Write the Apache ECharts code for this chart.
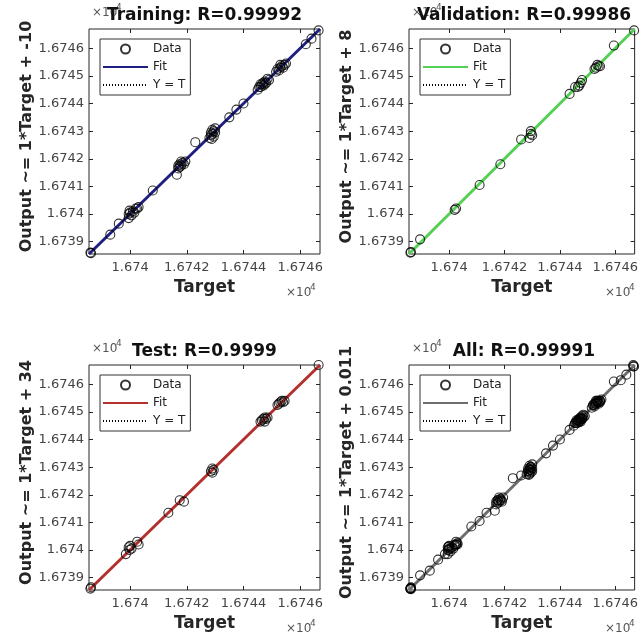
<!DOCTYPE html>
<html>
<head>
<meta charset="utf-8">
<script src="https://cdn.jsdelivr.net/npm/echarts@6/dist/echarts.min.js"></script>
<style>
html,body{margin:0;padding:0;background:#fff;}
#c{width:641px;height:636px;}
</style>
</head>
<body>
<div id="c"></div>
<script>
// ---------- data ----------
const panelTitles = ['Training: R=0.99992', 'Validation: R=0.99986', 'Test: R=0.9999', 'All: R=0.99991'];
const yAxisNames = ['Output ~= 1*Target + -10', 'Output ~= 1*Target + 8', 'Output ~= 1*Target + 34', 'Output ~= 1*Target + 0.011'];
const fitColors = ['#1f1f82', '#55d055', '#b3302e', '#6e6e6e'];
const axisMin = 16738.55;
const axisMax = 16746.7;
const xTicks = [16740, 16742, 16744, 16746];
const yTicks = [16739, 16740, 16741, 16742, 16743, 16744, 16745, 16746];
const legendNames = ['Data', 'Fit', 'Y = T'];

const trainTarget = [16738.6,16738.62,16739.3,16739.6,
  16739.95,16739.95,16740.0,16740.05,16740.1,16740.15,16740.2,16740.25,16740.3,16739.98,
  16740.8,
  16741.65,16741.7,16741.75,16741.8,16741.75,16741.85,16741.9,16741.95,16741.7,16741.8,
  16742.3,
  16742.8,16742.85,16742.9,16742.95,16743.0,16742.9,16742.85,16743.0,16742.95,16742.88,
  16743.5,16743.75,16744.0,
  16744.5,16744.55,16744.6,16744.65,16744.7,16744.75,16744.8,16744.85,16744.7,16744.6,16744.9,16744.75,
  16745.15,16745.2,16745.25,16745.3,16745.35,16745.4,16745.45,16745.3,16745.5,
  16746.2,16746.4,16746.65];
const trainOutput = [16738.6,16738.58,16739.25,16739.65,
  16739.85,16740.0,16740.05,16739.95,16740.1,16740.05,16740.2,16740.2,16740.25,16740.12,
  16740.85,
  16741.42,16741.65,16741.7,16741.75,16741.8,16741.85,16741.8,16741.9,16741.75,16741.9,
  16742.6,
  16742.75,16742.85,16742.9,16743.0,16742.95,16743.05,16742.95,16743.1,16742.8,16742.72,
  16743.5,16743.78,16744.0,
  16744.5,16744.6,16744.6,16744.7,16744.65,16744.8,16744.75,16744.9,16744.75,16744.7,16744.85,16744.7,
  16745.15,16745.25,16745.2,16745.3,16745.35,16745.3,16745.4,16745.4,16745.45,
  16746.15,16746.35,16746.65];

const valTarget = [16738.6,16738.62,16738.95,16740.2,16740.25,16741.1,16741.85,16742.6,16742.9,16742.95,16743.0,16742.95,
  16744.35,16744.55,16744.65,16744.75,16744.8,16744.7,16745.25,16745.3,16745.35,16745.4,16745.45,16745.95,16746.68];
const valOutput = [16738.6,16738.62,16739.08,16740.15,16740.2,16741.05,16741.8,16742.7,16742.75,16743.0,16742.85,16742.9,
  16744.35,16744.6,16744.6,16744.75,16744.85,16744.65,16745.25,16745.3,16745.4,16745.35,16745.35,16746.1,16746.65];

const testTarget = [16738.6,16738.62,16739.85,16739.95,16740.0,16740.05,16739.98,16740.25,16740.3,16741.35,16741.75,16741.9,
  16742.85,16742.9,16742.95,16742.9,
  16744.6,16744.65,16744.7,16744.75,16744.8,16744.85,16744.75,
  16745.2,16745.25,16745.3,16745.35,16745.4,16745.45,16746.65];
const testOutput = [16738.6,16738.65,16739.85,16740.1,16740.15,16740.05,16740.0,16740.3,16740.2,16741.35,16741.8,16741.75,
  16742.85,16742.95,16742.9,16742.8,
  16744.65,16744.7,16744.75,16744.8,16744.75,16744.8,16744.65,
  16745.25,16745.3,16745.35,16745.4,16745.35,16745.4,16746.7];

const allTarget = trainTarget.concat(valTarget, testTarget);
const allOutput = trainOutput.concat(valOutput, testOutput);

// ---------- layout ----------
const grids = [
  {left: 89, top: 29, width: 231, height: 225},
  {left: 409, top: 29, width: 230, height: 225},
  {left: 89, top: 365, width: 231, height: 225},
  {left: 409, top: 365, width: 230, height: 225}
];
const panels = [
  [trainTarget, trainOutput], [valTarget, valOutput], [testTarget, testOutput], [allTarget, allOutput]
];

function fmt(v) { return String(parseFloat((v / 1e4).toFixed(5))); }
function sfx(i) { return ' '.repeat(i); }

const option = {
  animation: false,
  backgroundColor: '#fff',
  grid: [], xAxis: [], yAxis: [], series: [], legend: [], graphic: []
};

grids.forEach((g, i) => {
  option.grid.push(Object.assign({show: true, borderColor: '#262626', borderWidth: 1, backgroundColor: '#fff', containLabel: false}, g));
  const tickStyle = {show: true, inside: true, length: 4, lineStyle: {color: '#262626', width: 1}};
  option.xAxis.push({
    type: 'value', gridIndex: i, min: axisMin, max: axisMax, position: 'bottom',
    axisLine: {show: false}, splitLine: {show: false},
    axisTick: Object.assign({customValues: xTicks}, tickStyle),
    axisLabel: {customValues: xTicks, formatter: fmt, color: '#444', fontFamily: 'DejaVu Sans', fontSize: 13, margin: 7},
    name: 'Target', nameLocation: 'middle', nameGap: 25,
    nameTextStyle: {fontFamily: 'DejaVu Sans', fontWeight: 'bold', fontSize: 17, color: '#262626'}
  });
  option.xAxis.push({
    type: 'value', gridIndex: i, min: axisMin, max: axisMax, position: 'top',
    axisLine: {show: false}, splitLine: {show: false},
    axisTick: Object.assign({customValues: xTicks}, tickStyle),
    axisLabel: {show: false}
  });
  option.yAxis.push({
    type: 'value', gridIndex: i, min: axisMin, max: axisMax, position: 'left',
    axisLine: {show: false}, splitLine: {show: false},
    axisTick: Object.assign({customValues: yTicks}, tickStyle),
    axisLabel: {customValues: yTicks, formatter: fmt, color: '#444', fontFamily: 'DejaVu Sans', fontSize: 13, margin: 5},
    name: yAxisNames[i], nameLocation: 'middle', nameGap: 51,
    nameTextStyle: {fontFamily: 'DejaVu Sans', fontWeight: 'bold', fontSize: 16, color: '#262626', padding: [0, 0, 0, 10]}
  });
  option.yAxis.push({
    type: 'value', gridIndex: i, min: axisMin, max: axisMax, position: 'right',
    axisLine: {show: false}, splitLine: {show: false},
    axisTick: Object.assign({customValues: yTicks}, tickStyle),
    axisLabel: {show: false}
  });
  const xi = i * 2, yi = i * 2;
  const names = legendNames.map(n => n + sfx(i));
  option.series.push({
    name: names[2], type: 'line', xAxisIndex: xi, yAxisIndex: yi, symbol: 'none', silent: true,
    lineStyle: {color: '#000', width: 1, type: [1, 2]}, itemStyle: {color: '#000'},
    data: [[axisMin, axisMin], [axisMax, axisMax]], z: 2
  });
  option.series.push({
    name: names[1], type: 'line', xAxisIndex: xi, yAxisIndex: yi, symbol: 'none', silent: true,
    lineStyle: {color: fitColors[i], width: 3}, itemStyle: {color: fitColors[i]},
    data: [[axisMin, axisMin], [axisMax, axisMax]], z: 3
  });
  const pts = panels[i][0].map((t, k) => [t, panels[i][1][k]]);
  option.series.push({
    name: names[0], type: 'scatter', xAxisIndex: xi, yAxisIndex: yi, symbol: 'circle', symbolSize: 9,
    itemStyle: {color: 'rgba(0,0,0,0)', borderColor: '#000', borderWidth: 1.1},
    data: pts, z: 4
  });
  option.legend.push({
    left: g.left + 11, top: g.top + 10, orient: 'vertical',
    data: [
      {name: names[0]},
      {name: names[1], itemStyle: {opacity: 0}},
      {name: names[2], itemStyle: {opacity: 0}}
    ],
    selectedMode: false, itemWidth: 45, itemHeight: 9, itemGap: 6,
    padding: [4, 5, 4, 2], borderColor: '#333', borderWidth: 1, backgroundColor: '#fff',
    formatter: n => n.trim(),
    textStyle: {fontFamily: 'DejaVu Sans', fontSize: 12, color: '#222'}
  });
  option.graphic.push({type: 'text', left: g.left + 3, top: g.top - 22, z: 10,
    style: {text: '×10', font: '12px "DejaVu Sans"', fill: '#555'}});
  option.graphic.push({type: 'text', left: g.left + 27, top: g.top - 26, z: 10,
    style: {text: '4', font: '9px "DejaVu Sans"', fill: '#555'}});
  option.graphic.push({type: 'text', left: g.left + g.width - 34, top: g.top + g.height + 33, z: 10,
    style: {text: '×10', font: '12px "DejaVu Sans"', fill: '#555'}});
  option.graphic.push({type: 'text', left: g.left + g.width - 10, top: g.top + g.height + 29, z: 10,
    style: {text: '4', font: '9px "DejaVu Sans"', fill: '#555'}});
  option.graphic.push({type: 'text', z: 20, x: g.left + g.width / 2, y: g.top - 13,
    style: {text: panelTitles[i], font: 'bold 17px "DejaVu Sans"', fill: '#111', textAlign: 'center', textVerticalAlign: 'middle'}});
});

const chart = echarts.init(document.getElementById('c'), null, {renderer: 'canvas'});
chart.setOption(option);
</script>
</body>
</html>
